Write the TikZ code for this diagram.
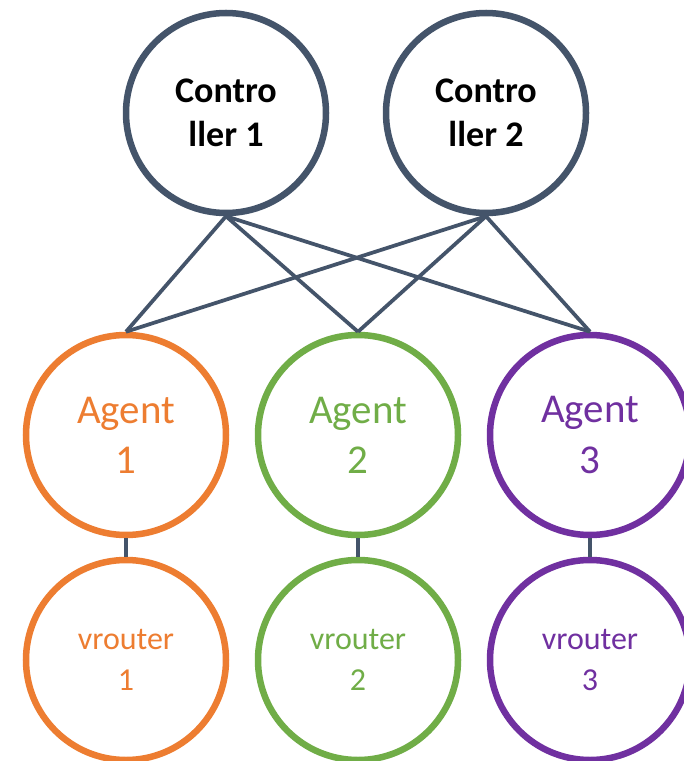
\documentclass[tikz,border=0pt]{standalone}
\usepackage{fontspec}
\setmainfont{Carlito}
\usepackage{xcolor}
\usetikzlibrary{positioning,calc}

\definecolor{ctrlgray}{HTML}{44546A}
\definecolor{agentorange}{HTML}{ED7D31}
\definecolor{agentgreen}{HTML}{70AD47}
\definecolor{agentpurple}{HTML}{7030A0}

\begin{document}
\begin{tikzpicture}[
    ring/.style={draw, circle, line width=0.13cm, minimum size=4cm, inner sep=0pt, align=center},
    ctrlnode/.style={ring, draw=ctrlgray, font=\fontsize{20.5}{25}\selectfont\bfseries},
    agentnode/.style={ring, font=\fontsize{23.3}{28.5}\selectfont},
    vrnode/.style={ring, font=\fontsize{18.2}{23}\selectfont},
    wire/.style={draw=ctrlgray, line width=0.075cm}
]
    \useasboundingbox (0,0) rectangle (13.66,-15.22);

    % controllers on top
    \node[ctrlnode] (ctrl1) at (4.52,-2.26) {Contro\\ller 1};
    \node[ctrlnode] (ctrl2) at (9.72,-2.26) {Contro\\ller 2};

    % agents and their vrouters
    \foreach \i/\x/\col in {1/2.52/agentorange, 2/7.16/agentgreen, 3/11.8/agentpurple} {
        \node[agentnode, draw=\col, text=\col] (agent\i) at (\x,-8.70) {Agent\\\i};
        \node[vrnode, draw=\col, text=\col] (vr\i) at (\x,-13.2) {vrouter\\\i};
    }

    % every controller talks to every agent
    \foreach \c in {1,2}
        \foreach \a in {1,2,3}
            \draw[wire] (ctrl\c.south) -- (agent\a.north);

    \foreach \i in {1,2,3} \draw[wire] (agent\i.south) -- (vr\i.north);
\end{tikzpicture}
\end{document}
